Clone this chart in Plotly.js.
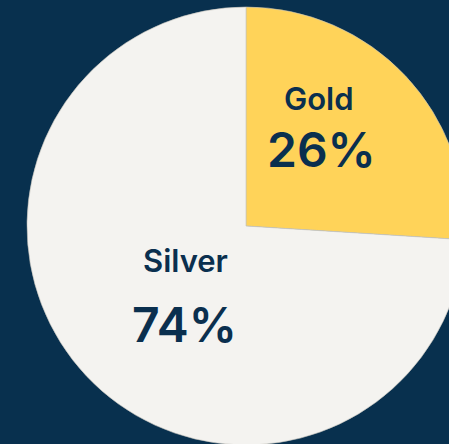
<!DOCTYPE html>
<html>
<head>
<meta charset="utf-8">
<script src="https://cdn.plot.ly/plotly-3.0.1.min.js"></script>
<style>
html,body{margin:0;padding:0;overflow:hidden;background:#08304E;width:449px;height:444px;}
#chart{width:492px;height:452px;}
</style>
</head>
<body>
<div id="chart"></div>
<script>
var labels = ['Gold', 'Silver'];
var values = [26, 74];
var colors = ['#FFD359', '#F4F3F0'];

var W = 492, H = 452;
var labelPos = [[319, 98], [185, 260]];
var pctPos = [[321, 150], [184, 324]];

var total = values.reduce(function(a,b){return a+b;}, 0);
var annotations = [];
labels.forEach(function(l, i){
  annotations.push({
    text: l, xref: 'paper', yref: 'paper',
    x: labelPos[i][0]/W, y: 1 - labelPos[i][1]/H,
    xanchor: 'center', yanchor: 'middle', showarrow: false,
    font: {family: 'Inter, sans-serif', size: 31, color: '#0A2F4E', weight: 600}
  });
  annotations.push({
    text: Math.round(values[i]/total*100) + '%', xref: 'paper', yref: 'paper',
    x: pctPos[i][0]/W, y: 1 - pctPos[i][1]/H,
    xanchor: 'center', yanchor: 'middle', showarrow: false,
    font: {family: 'Inter, sans-serif', size: 48, color: '#0A2F4E', weight: 600}
  });
});

var data = [{
  type: 'pie',
  labels: labels,
  values: values,
  sort: false,
  direction: 'clockwise',
  rotation: 0,
  textinfo: 'none',
  hoverinfo: 'none',
  marker: {colors: colors, line: {color: '#C4C3BC', width: 0.6}},
  domain: {x: [0, 1], y: [7/H, 445/H]},
  showlegend: false
}];

var layout = {
  width: W, height: H,
  margin: {l: 0, r: 0, t: 0, b: 0, pad: 0},
  paper_bgcolor: '#08304E',
  plot_bgcolor: '#08304E',
  showlegend: false,
  annotations: annotations
};

Plotly.newPlot('chart', data, layout, {displayModeBar: false, staticPlot: true});
</script>
</body>
</html>
